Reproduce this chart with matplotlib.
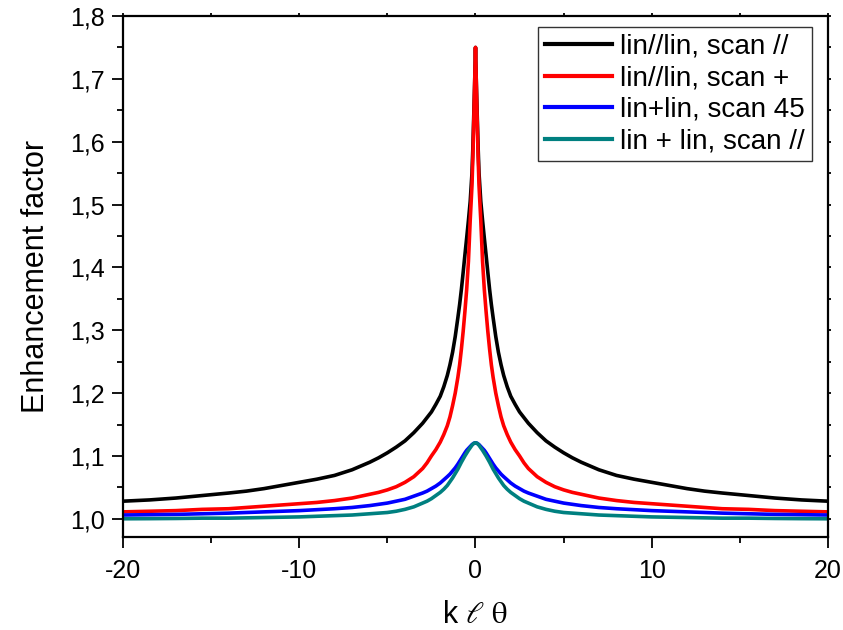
import numpy as np
import matplotlib
matplotlib.use('Agg')
import matplotlib.pyplot as plt
from matplotlib.ticker import MultipleLocator, FuncFormatter

plt.rcParams['font.family'] = ['Liberation Sans', 'DejaVu Sans']
plt.rcParams['mathtext.fontset'] = 'stix'
plt.rcParams['axes.unicode_minus'] = False

# half of each curve (x >= 0); the curves are symmetric
x_half = [0, 0.05, 0.1, 0.15, 0.2, 0.3, 0.4, 0.5, 0.6, 0.7, 0.8, 0.9, 1.0,
          1.15, 1.3, 1.45, 1.6, 1.8, 2.0, 2.25, 2.5, 2.75, 3.0, 3.5, 4.0,
          4.5, 5.0, 5.5, 6.0, 7.0, 8.0, 9.0, 10, 11, 12, 13, 14, 15.5, 17,
          18.5, 20]
par_scan_par = [1.75, 1.69, 1.64, 1.59, 1.55, 1.505, 1.475, 1.447, 1.42, 1.392,
                1.365, 1.341, 1.32, 1.29, 1.265, 1.245, 1.228, 1.21, 1.195,
                1.182, 1.17, 1.161, 1.152, 1.137, 1.124, 1.114, 1.105, 1.097,
                1.09, 1.078, 1.069, 1.063, 1.058, 1.053, 1.048, 1.044, 1.041,
                1.037, 1.033, 1.030, 1.028]
par_scan_plus = [1.75, 1.69, 1.63, 1.575, 1.53, 1.475, 1.41, 1.365, 1.33, 1.298,
                 1.27, 1.245, 1.225, 1.20, 1.18, 1.162, 1.148, 1.134, 1.122,
                 1.11, 1.10, 1.089, 1.08, 1.067, 1.058, 1.051, 1.046, 1.042,
                 1.039, 1.033, 1.029, 1.026, 1.024, 1.022, 1.020, 1.018, 1.016,
                 1.015, 1.013, 1.012, 1.011]
plus_scan_45 = [1.121, 1.1205, 1.120, 1.119, 1.118, 1.115, 1.112, 1.109, 1.105,
                1.1005, 1.096, 1.0915, 1.087, 1.081, 1.076, 1.071, 1.067, 1.062,
                1.057, 1.052, 1.048, 1.044, 1.041, 1.036, 1.031, 1.028, 1.025,
                1.023, 1.021, 1.018, 1.016, 1.0145, 1.013, 1.012, 1.011, 1.010,
                1.009, 1.008, 1.007, 1.0065, 1.006]
plus_scan_par = [1.121, 1.1205, 1.120, 1.1185, 1.117, 1.113, 1.109, 1.1045, 1.100,
                 1.095, 1.090, 1.0845, 1.079, 1.072, 1.065, 1.059, 1.053, 1.047,
                 1.042, 1.037, 1.032, 1.028, 1.025, 1.019, 1.015, 1.012, 1.010,
                 1.009, 1.008, 1.006, 1.005, 1.004, 1.003, 1.0025, 1.002, 1.0015,
                 1.001, 1.001, 1.0005, 1.0002, 1.000]

labels = ['lin//lin, scan //', 'lin//lin, scan +', 'lin+lin, scan 45', 'lin + lin, scan //']
colors = ['black', '#ff0000', '#0000ff', '#008080']


def mirror(xs, ys):
    xs = np.asarray(xs, float)
    ys = np.asarray(ys, float)
    return (np.concatenate([-xs[:0:-1], xs]),
            np.concatenate([ys[:0:-1], ys]))


fig = plt.figure(figsize=(8.43, 6.30), dpi=100)
ax = fig.add_axes([0.1459, 0.1476, 0.8363, 0.827])

series = [par_scan_par, par_scan_plus, plus_scan_45, plus_scan_par]
for ys, lab, c in zip(series, labels, colors):
    xx, yy = mirror(x_half, ys)
    ax.plot(xx, yy, color=c, lw=2.6, label=lab, solid_joinstyle='round')

ax.set_xlim(-20, 20)
ax.set_ylim(0.971, 1.8)

ax.xaxis.set_major_locator(MultipleLocator(10))
ax.xaxis.set_minor_locator(MultipleLocator(5))
ax.yaxis.set_major_locator(MultipleLocator(0.1))
ax.yaxis.set_minor_locator(MultipleLocator(0.05))
ax.yaxis.set_major_formatter(FuncFormatter(lambda v, p: f"{v:.1f}".replace('.', ',')))
ax.xaxis.set_major_formatter(FuncFormatter(lambda v, p: f"{v:.0f}"))

ax.tick_params(which='major', direction='out', length=8, width=1.3, labelsize=18)
ax.tick_params(axis='x', which='major', pad=8)
ax.tick_params(axis='y', which='major', pad=5)
ax.tick_params(which='minor', direction='out', length=4, width=1.3)
ax.tick_params(which='both', top=True, right=True)
ax.tick_params(axis='x', which='both', labeltop=False)
ax.tick_params(axis='y', which='both', labelright=False)
for s in ax.spines.values():
    s.set_linewidth(1.6)

# short ticks on the top and right frame
for t in ax.xaxis.get_major_ticks() + ax.xaxis.get_minor_ticks():
    t.tick2line.set_markersize(2)
for t in ax.yaxis.get_major_ticks() + ax.yaxis.get_minor_ticks():
    t.tick2line.set_markersize(2)

ax.set_xlabel(r'k $\ell$ $\mathrm{\theta}$', fontsize=22, labelpad=12)
ax.set_ylabel('Enhancement factor', fontsize=22, labelpad=14)

leg = ax.legend(loc='upper right', bbox_to_anchor=(0.9773, 0.979), fontsize=20,
                frameon=True, fancybox=False, edgecolor='black',
                handlelength=2.4, handletextpad=0.3, labelspacing=0.2,
                borderpad=0.25, borderaxespad=0)
leg.get_frame().set_linewidth(1.0)
for h in leg.get_lines():
    h.set_linewidth(3)

plt.savefig('out.png', dpi=100)
